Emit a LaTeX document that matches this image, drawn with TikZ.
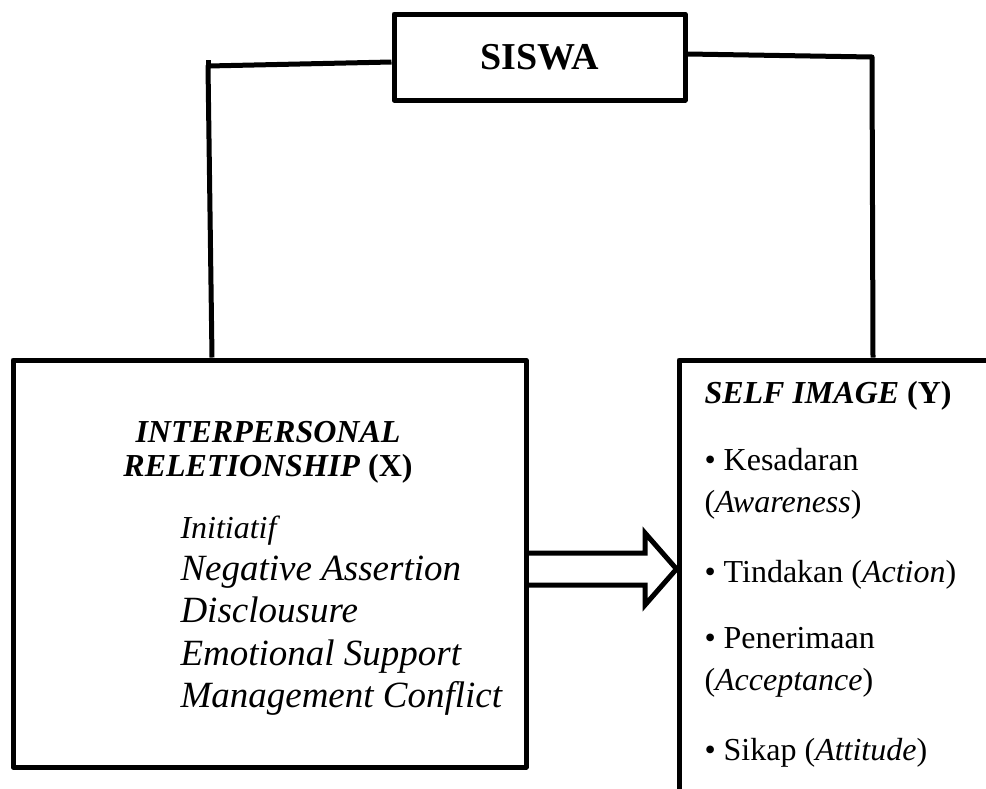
\documentclass[tikz,border=0pt]{standalone}
\usepackage{fontspec}
\setmainfont{Liberation Serif}
\usetikzlibrary{positioning}

\begin{document}
\begin{tikzpicture}[x=1pt,y=-1pt,line width=5pt,line join=round,
    box/.style={draw,rectangle,inner sep=0pt},
    txt/.style={anchor=base west,inner sep=0pt,font=\fontsize{32}{38}\selectfont},
    head/.style={anchor=base,inner sep=0pt,font=\fontsize{32}{38}\selectfont\bfseries},
    item/.style={txt,font=\fontsize{37}{42}\selectfont\itshape}]
        \useasboundingbox (0,0) rectangle (986,788);
        \clip (0,0) rectangle (986,788);
        \node[box,minimum width=291pt,minimum height=86pt] (siswa) at (539.5,57) {\fontsize{38}{44}\selectfont\bfseries SISWA};
        \node[box,minimum width=513pt,minimum height=407pt] (ir) at (269.5,563.5) {};
        \node[box,minimum width=400pt,minimum height=500pt] (si) at (879,610) {};
        \node[head] (irtitle1) at (268,442) {\textit{INTERPERSONAL}};
        \node[head] (irtitle2) at (268,476) {\textit{RELETIONSHIP} (X)};
        \node[txt,font=\fontsize{32}{38}\selectfont\itshape] (ir1) at (178,538) {Initiatif};
        \node[item] (ir2) at (178,580) {Negative Assertion};
        \node[item] (ir3) at (178,622) {Disclousure};
        \node[item] (ir4) at (178,665) {Emotional Support};
        \node[item] (ir5) at (178,707) {Management Conflict};
        \node[txt,font=\fontsize{32}{38}\selectfont\bfseries] (sititle) at (702,403) {\textit{SELF IMAGE} (Y)};
        \node[txt] (si1) at (702,470) {• Kesadaran};
        \node[txt] (si2) at (702,512) {(\textit{Awareness})};
        \node[txt] (si3) at (702,582) {• Tindakan (\textit{Action})};
        \node[txt] (si4) at (702,648) {• Penerimaan};
        \node[txt] (si5) at (702,690) {(\textit{Acceptance})};
        \node[txt] (si6) at (702,760) {• Sikap (\textit{Attitude})};
        \coordinate (lcorner) at (208,66);
        \coordinate (rcorner) at (872,57);
        \draw (siswa.west |- 0,62) -- (lcorner) -- (212,0 |- ir.north);
        \draw (lcorner |- 0,60) -- (lcorner);
        \draw (siswa.east |- 0,54) -- (rcorner) -- (873,0 |- si.north);
        \draw[line join=miter] (ir.east |- 0,553) -- (645,553) -- (645,533) -- (si.west |- 0,569) -- (645,605) -- (645,585) -- (ir.east |- 0,585);
    \end{tikzpicture}
\end{document}
